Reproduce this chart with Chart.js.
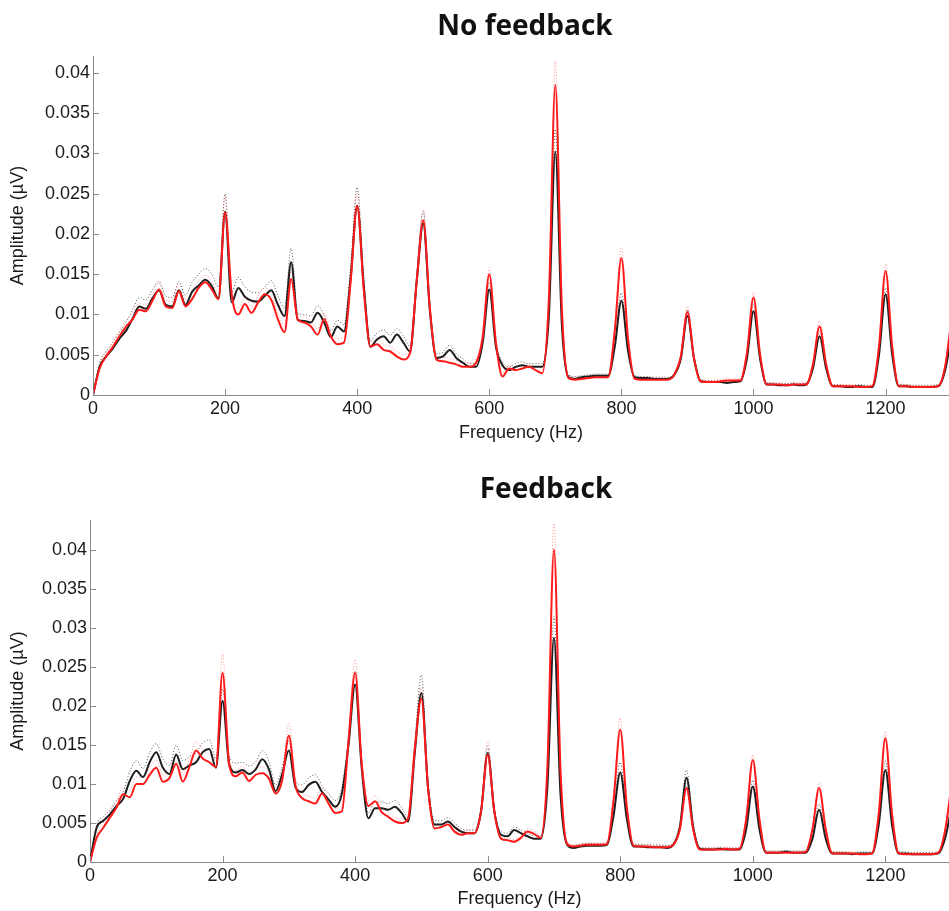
<!DOCTYPE html>
<html>
<head>
<meta charset="utf-8">
<script src="https://cdn.jsdelivr.net/npm/chart.js@4.4.0/dist/chart.umd.min.js"></script>
<style>
  body { margin: 0; background: #fff; }
  #page { position: relative; width: 949px; height: 911px; overflow: hidden; }
  canvas { position: absolute; left: 0; }
  .panel-title {
    position: absolute; font-family: "Open Sans", sans-serif; font-weight: 700;
    font-size: 28px; line-height: 32px; color: #111; transform: translateX(-50%); white-space: nowrap;
  }
</style>
</head>
<body>
<div id="page">
  <canvas id="noFb" width="949" height="455" style="top:0"></canvas>
  <canvas id="fb" width="949" height="456" style="top:455px"></canvas>
  <div class="panel-title" style="left:525px;top:8px">No feedback</div>
  <div class="panel-title" style="left:546px;top:471px">Feedback</div>
</div>
<script>
// spectra sampled every 10 Hz, 0..1300 Hz (one row = 100 Hz)
const freqStep = 10;
const xTicks = [0, 200, 400, 600, 800, 1000, 1200];
const yTicks = [0, 0.005, 0.01, 0.015, 0.02, 0.025, 0.03, 0.035, 0.04];
const yTickLabels = ['0', '0.005', '0.01', '0.015', '0.02', '0.025', '0.03', '0.035', '0.04'];

// --- No feedback ---
const noFbBlack = [
  0, 0.0035, 0.0048, 0.0058, 0.0070, 0.0080, 0.0095, 0.0110, 0.0107, 0.0120,
  0.0130, 0.0112, 0.0110, 0.0130, 0.0112, 0.0128, 0.0136, 0.0143, 0.0135, 0.0120,
  0.0228, 0.0115, 0.0133, 0.0122, 0.0117, 0.0116, 0.0123, 0.0130, 0.0112, 0.0098,
  0.0165, 0.0093, 0.0092, 0.0090, 0.0102, 0.0090, 0.0072, 0.0085, 0.0079, 0.0145,
  0.0235, 0.0135, 0.0060, 0.0069, 0.0073, 0.0065, 0.0075, 0.0065, 0.0054, 0.0140,
  0.0213, 0.0105, 0.0046, 0.0048, 0.0056, 0.0046, 0.0040, 0.0035, 0.0035, 0.0065,
  0.0131, 0.0060, 0.0037, 0.0031, 0.0035, 0.0037, 0.0035, 0.0035, 0.0035, 0.0095,
  0.0302, 0.0085, 0.0022, 0.0020, 0.0022, 0.0023, 0.0024, 0.0024, 0.0024, 0.0060,
  0.0117, 0.0055, 0.0022, 0.0021, 0.0021, 0.0020, 0.0020, 0.0020, 0.0025, 0.0045,
  0.0098, 0.0045, 0.0017, 0.0016, 0.0016, 0.0016, 0.0015, 0.0016, 0.0017, 0.0045,
  0.0104, 0.0045, 0.0013, 0.0013, 0.0012, 0.0012, 0.0013, 0.0012, 0.0013, 0.0033,
  0.0073, 0.0033, 0.0011, 0.0011, 0.0010, 0.0010, 0.0011, 0.0010, 0.0010, 0.0050,
  0.0125, 0.0050, 0.0011, 0.0011, 0.0010, 0.0010, 0.0010, 0.0010, 0.0011, 0.0030,
  0.0075
];
const noFbRed = [
  0, 0.0033, 0.0048, 0.0060, 0.0073, 0.0085, 0.0094, 0.0106, 0.0104, 0.0117,
  0.0131, 0.0110, 0.0108, 0.0129, 0.0110, 0.0119, 0.0133, 0.0140, 0.0131, 0.0119,
  0.0227, 0.0125, 0.0100, 0.0113, 0.0102, 0.0115, 0.0125, 0.0118, 0.0094, 0.0078,
  0.0144, 0.0094, 0.0090, 0.0085, 0.0075, 0.0094, 0.0073, 0.0063, 0.0065, 0.0140,
  0.0235, 0.0130, 0.0060, 0.0063, 0.0056, 0.0054, 0.0048, 0.0044, 0.0052, 0.0140,
  0.0217, 0.0108, 0.0044, 0.0042, 0.0040, 0.0038, 0.0035, 0.0035, 0.0040, 0.0072,
  0.0150, 0.0065, 0.0023, 0.0033, 0.0031, 0.0033, 0.0035, 0.0031, 0.0027, 0.0115,
  0.0385, 0.0105, 0.0021, 0.0019, 0.0020, 0.0021, 0.0022, 0.0022, 0.0022, 0.0080,
  0.0170, 0.0070, 0.0020, 0.0019, 0.0019, 0.0019, 0.0019, 0.0019, 0.0025, 0.0048,
  0.0103, 0.0045, 0.0017, 0.0016, 0.0016, 0.0017, 0.0018, 0.0018, 0.0018, 0.0052,
  0.0121, 0.0050, 0.0013, 0.0013, 0.0013, 0.0012, 0.0013, 0.0013, 0.0013, 0.0038,
  0.0085, 0.0038, 0.0011, 0.0011, 0.0011, 0.0011, 0.0010, 0.0010, 0.0011, 0.0060,
  0.0154, 0.0060, 0.0011, 0.0011, 0.0010, 0.0010, 0.0010, 0.0010, 0.0011, 0.0035,
  0.0095
];
const noFbBlackUpper = [
  0, 0.0040, 0.0054, 0.0065, 0.0078, 0.0090, 0.0106, 0.0121, 0.0118, 0.0131,
  0.0141, 0.0123, 0.0121, 0.0141, 0.0124, 0.0140, 0.0150, 0.0157, 0.0150, 0.0134,
  0.0250, 0.0128, 0.0146, 0.0134, 0.0128, 0.0127, 0.0134, 0.0142, 0.0123, 0.0108,
  0.0182, 0.0102, 0.0100, 0.0098, 0.0111, 0.0099, 0.0080, 0.0093, 0.0087, 0.0160,
  0.0258, 0.0148, 0.0068, 0.0077, 0.0081, 0.0074, 0.0083, 0.0073, 0.0060, 0.0150,
  0.0228, 0.0112, 0.0051, 0.0053, 0.0062, 0.0051, 0.0045, 0.0039, 0.0039, 0.0070,
  0.0140, 0.0066, 0.0041, 0.0035, 0.0039, 0.0041, 0.0039, 0.0039, 0.0039, 0.0103,
  0.0330, 0.0093, 0.0025, 0.0023, 0.0024, 0.0025, 0.0026, 0.0026, 0.0026, 0.0066,
  0.0127, 0.0060, 0.0024, 0.0023, 0.0023, 0.0022, 0.0022, 0.0022, 0.0027, 0.0049,
  0.0106, 0.0049, 0.0019, 0.0018, 0.0018, 0.0018, 0.0017, 0.0018, 0.0019, 0.0049,
  0.0112, 0.0049, 0.0015, 0.0015, 0.0014, 0.0014, 0.0015, 0.0014, 0.0015, 0.0036,
  0.0079, 0.0036, 0.0013, 0.0013, 0.0012, 0.0012, 0.0013, 0.0012, 0.0012, 0.0054,
  0.0133, 0.0054, 0.0013, 0.0013, 0.0012, 0.0012, 0.0012, 0.0012, 0.0013, 0.0033,
  0.0080
];
const noFbRedUpper = [
  0, 0.0038, 0.0053, 0.0066, 0.0080, 0.0093, 0.0102, 0.0114, 0.0112, 0.0125,
  0.0139, 0.0118, 0.0116, 0.0137, 0.0118, 0.0128, 0.0142, 0.0149, 0.0140, 0.0128,
  0.0248, 0.0133, 0.0108, 0.0121, 0.0110, 0.0123, 0.0133, 0.0126, 0.0102, 0.0086,
  0.0155, 0.0101, 0.0097, 0.0092, 0.0082, 0.0101, 0.0080, 0.0070, 0.0072, 0.0150,
  0.0250, 0.0140, 0.0066, 0.0069, 0.0062, 0.0060, 0.0054, 0.0050, 0.0058, 0.0150,
  0.0230, 0.0115, 0.0049, 0.0047, 0.0045, 0.0043, 0.0040, 0.0040, 0.0045, 0.0078,
  0.0158, 0.0071, 0.0027, 0.0037, 0.0035, 0.0037, 0.0039, 0.0035, 0.0031, 0.0125,
  0.0415, 0.0115, 0.0024, 0.0022, 0.0023, 0.0024, 0.0025, 0.0025, 0.0025, 0.0087,
  0.0183, 0.0076, 0.0023, 0.0021, 0.0021, 0.0021, 0.0021, 0.0021, 0.0028, 0.0052,
  0.0110, 0.0049, 0.0019, 0.0018, 0.0018, 0.0019, 0.0020, 0.0020, 0.0020, 0.0056,
  0.0128, 0.0054, 0.0015, 0.0015, 0.0015, 0.0014, 0.0015, 0.0015, 0.0015, 0.0041,
  0.0092, 0.0041, 0.0013, 0.0013, 0.0013, 0.0013, 0.0012, 0.0012, 0.0013, 0.0064,
  0.0163, 0.0064, 0.0013, 0.0013, 0.0012, 0.0012, 0.0012, 0.0012, 0.0013, 0.0038,
  0.0100
];

// --- Feedback ---
const fbBlack = [
  0, 0.0044, 0.0053, 0.0061, 0.0072, 0.0081, 0.0104, 0.0117, 0.0109, 0.0128,
  0.0141, 0.0121, 0.0113, 0.0138, 0.0119, 0.0124, 0.0128, 0.0141, 0.0145, 0.0121,
  0.0207, 0.0125, 0.0115, 0.0118, 0.0113, 0.0119, 0.0132, 0.0119, 0.0091, 0.0113,
  0.0143, 0.0096, 0.0090, 0.0099, 0.0103, 0.0090, 0.0080, 0.0071, 0.0088, 0.0150,
  0.0228, 0.0120, 0.0056, 0.0069, 0.0069, 0.0067, 0.0071, 0.0063, 0.0052, 0.0140,
  0.0217, 0.0095, 0.0048, 0.0048, 0.0052, 0.0045, 0.0039, 0.0037, 0.0037, 0.0065,
  0.0140, 0.0065, 0.0035, 0.0033, 0.0041, 0.0037, 0.0033, 0.0030, 0.0030, 0.0095,
  0.0288, 0.0085, 0.0022, 0.0018, 0.0020, 0.0021, 0.0021, 0.0021, 0.0022, 0.0060,
  0.0115, 0.0055, 0.0020, 0.0020, 0.0019, 0.0019, 0.0019, 0.0018, 0.0022, 0.0045,
  0.0108, 0.0045, 0.0017, 0.0016, 0.0016, 0.0017, 0.0016, 0.0016, 0.0016, 0.0042,
  0.0097, 0.0042, 0.0012, 0.0012, 0.0012, 0.0013, 0.0012, 0.0012, 0.0012, 0.0030,
  0.0067, 0.0030, 0.0011, 0.0011, 0.0011, 0.0010, 0.0011, 0.0011, 0.0011, 0.0048,
  0.0118, 0.0048, 0.0011, 0.0011, 0.0010, 0.0010, 0.0010, 0.0010, 0.0011, 0.0030,
  0.0070
];
const fbRed = [
  0, 0.0031, 0.0044, 0.0057, 0.0070, 0.0087, 0.0083, 0.0100, 0.0100, 0.0112,
  0.0121, 0.0103, 0.0108, 0.0126, 0.0103, 0.0122, 0.0143, 0.0133, 0.0128, 0.0122,
  0.0243, 0.0125, 0.0110, 0.0115, 0.0104, 0.0112, 0.0114, 0.0107, 0.0088, 0.0105,
  0.0162, 0.0098, 0.0082, 0.0078, 0.0075, 0.0088, 0.0075, 0.0063, 0.0065, 0.0155,
  0.0243, 0.0125, 0.0072, 0.0078, 0.0064, 0.0058, 0.0052, 0.0050, 0.0056, 0.0145,
  0.0210, 0.0095, 0.0043, 0.0045, 0.0048, 0.0039, 0.0035, 0.0037, 0.0037, 0.0065,
  0.0138, 0.0065, 0.0030, 0.0028, 0.0026, 0.0031, 0.0039, 0.0036, 0.0031, 0.0120,
  0.0401, 0.0115, 0.0023, 0.0020, 0.0021, 0.0022, 0.0022, 0.0022, 0.0023, 0.0080,
  0.0170, 0.0070, 0.0021, 0.0020, 0.0020, 0.0019, 0.0019, 0.0019, 0.0022, 0.0042,
  0.0095, 0.0042, 0.0016, 0.0016, 0.0016, 0.0016, 0.0017, 0.0016, 0.0017, 0.0055,
  0.0131, 0.0055, 0.0012, 0.0012, 0.0012, 0.0012, 0.0012, 0.0012, 0.0013, 0.0042,
  0.0095, 0.0042, 0.0011, 0.0011, 0.0011, 0.0011, 0.0010, 0.0010, 0.0011, 0.0062,
  0.0159, 0.0062, 0.0011, 0.0010, 0.0010, 0.0010, 0.0010, 0.0010, 0.0012, 0.0040,
  0.0100
];
const fbBlackUpper = [
  0, 0.0048, 0.0058, 0.0067, 0.0079, 0.0090, 0.0116, 0.0130, 0.0120, 0.0140,
  0.0152, 0.0132, 0.0124, 0.0150, 0.0130, 0.0135, 0.0140, 0.0153, 0.0157, 0.0132,
  0.0222, 0.0136, 0.0127, 0.0128, 0.0123, 0.0129, 0.0143, 0.0129, 0.0099, 0.0122,
  0.0155, 0.0105, 0.0099, 0.0108, 0.0112, 0.0098, 0.0088, 0.0079, 0.0096, 0.0160,
  0.0245, 0.0130, 0.0063, 0.0077, 0.0077, 0.0075, 0.0079, 0.0070, 0.0058, 0.0152,
  0.0240, 0.0105, 0.0053, 0.0053, 0.0057, 0.0050, 0.0043, 0.0041, 0.0041, 0.0070,
  0.0148, 0.0070, 0.0039, 0.0037, 0.0045, 0.0041, 0.0037, 0.0034, 0.0034, 0.0105,
  0.0315, 0.0093, 0.0025, 0.0021, 0.0023, 0.0024, 0.0024, 0.0024, 0.0025, 0.0066,
  0.0128, 0.0060, 0.0023, 0.0023, 0.0022, 0.0022, 0.0022, 0.0021, 0.0025, 0.0050,
  0.0118, 0.0050, 0.0019, 0.0018, 0.0018, 0.0019, 0.0018, 0.0018, 0.0018, 0.0046,
  0.0105, 0.0046, 0.0014, 0.0014, 0.0014, 0.0015, 0.0014, 0.0014, 0.0014, 0.0033,
  0.0075, 0.0033, 0.0013, 0.0013, 0.0013, 0.0012, 0.0013, 0.0013, 0.0013, 0.0053,
  0.0130, 0.0053, 0.0013, 0.0013, 0.0012, 0.0012, 0.0012, 0.0012, 0.0013, 0.0033,
  0.0077
];
const fbRedUpper = [
  0, 0.0036, 0.0050, 0.0064, 0.0078, 0.0096, 0.0092, 0.0109, 0.0109, 0.0121,
  0.0131, 0.0112, 0.0117, 0.0136, 0.0112, 0.0132, 0.0155, 0.0144, 0.0138, 0.0131,
  0.0268, 0.0135, 0.0118, 0.0123, 0.0112, 0.0120, 0.0122, 0.0115, 0.0095, 0.0112,
  0.0178, 0.0106, 0.0089, 0.0085, 0.0082, 0.0095, 0.0082, 0.0069, 0.0071, 0.0165,
  0.0260, 0.0135, 0.0079, 0.0085, 0.0070, 0.0064, 0.0057, 0.0055, 0.0061, 0.0155,
  0.0225, 0.0102, 0.0047, 0.0049, 0.0052, 0.0043, 0.0039, 0.0041, 0.0041, 0.0070,
  0.0155, 0.0071, 0.0033, 0.0031, 0.0029, 0.0034, 0.0043, 0.0040, 0.0034, 0.0130,
  0.0435, 0.0125, 0.0026, 0.0022, 0.0023, 0.0024, 0.0024, 0.0024, 0.0025, 0.0087,
  0.0185, 0.0076, 0.0023, 0.0022, 0.0022, 0.0021, 0.0021, 0.0021, 0.0024, 0.0046,
  0.0102, 0.0046, 0.0018, 0.0018, 0.0018, 0.0018, 0.0019, 0.0018, 0.0019, 0.0059,
  0.0138, 0.0059, 0.0014, 0.0014, 0.0014, 0.0014, 0.0014, 0.0014, 0.0015, 0.0045,
  0.0102, 0.0045, 0.0013, 0.0013, 0.0013, 0.0013, 0.0012, 0.0012, 0.0013, 0.0066,
  0.0168, 0.0066, 0.0013, 0.0012, 0.0012, 0.0012, 0.0012, 0.0012, 0.0014, 0.0043,
  0.0106
];

const freqs = noFbBlack.map((_, i) => i * freqStep);
const toPoints = arr => arr.map((v, i) => ({ x: freqs[i], y: v }));

const axisColor = '#8a8a8a';
const textColor = '#1a1a1a';
const tickFont = { family: '"Liberation Sans", Arial, sans-serif', size: 18 };

// MATLAB style ticks pointing into the plot
const inwardTicks = {
  id: 'inwardTicks',
  afterDatasetsDraw(chart) {
    const { ctx, chartArea, scales: { x, y } } = chart;
    ctx.save();
    ctx.strokeStyle = axisColor;
    ctx.lineWidth = 1;
    ctx.beginPath();
    xTicks.forEach(v => {
      const px = Math.round(x.getPixelForValue(v)) + 0.5;
      ctx.moveTo(px, chartArea.bottom);
      ctx.lineTo(px, chartArea.bottom - 6);
    });
    yTicks.forEach(v => {
      const py = Math.round(y.getPixelForValue(v)) + 0.5;
      ctx.moveTo(chartArea.left, py);
      ctx.lineTo(chartArea.left + 6, py);
    });
    ctx.stroke();
    ctx.restore();
  }
};

function makeChart(id, black, red, blackUp, redUp, o) {
  const line = (data, color, width, dash) => ({
    data: toPoints(data), borderColor: color, borderWidth: width, borderDash: dash,
    pointRadius: 0, fill: false, cubicInterpolationMode: 'monotone'
  });
  return new Chart(document.getElementById(id), {
    type: 'line',
    data: {
      datasets: [
        line(red, '#ff1a1a', 2, []),
        line(black, '#1e1e1e', 2, []),
        line(redUp, 'rgba(255,120,120,0.8)', 1, [1, 2]),
        line(blackUp, '#555', 1, [1, 2])
      ]
    },
    options: {
      responsive: false,
      animation: false,
      layout: { padding: { top: o.top, left: 0, right: 0, bottom: 0 } },
      plugins: { legend: { display: false }, tooltip: { enabled: false } },
      scales: {
        x: {
          type: 'linear', min: 0, max: 1296,
          afterFit: s => { s.height = o.xHeight; },
          afterBuildTicks: s => { s.ticks = xTicks.map(v => ({ value: v })); },
          grid: { drawOnChartArea: false, drawTicks: false },
          border: { color: axisColor },
          ticks: { font: tickFont, color: textColor, padding: 3, maxRotation: 0, callback: v => String(v) },
          title: { display: true, text: 'Frequency (Hz)', font: tickFont, color: textColor, padding: { bottom: o.xTitlePad } }
        },
        y: {
          min: 0, max: o.yMax,
          afterFit: s => { s.width = o.yWidth; },
          afterBuildTicks: s => { s.ticks = yTicks.map(v => ({ value: v })); },
          grid: { drawOnChartArea: false, drawTicks: false },
          border: { color: axisColor },
          ticks: { font: tickFont, color: textColor, padding: 3, callback: (v, i) => yTickLabels[i] },
          title: { display: true, text: 'Amplitude (\u00b5V)', font: tickFont, color: textColor, padding: { top: 7 } }
        }
      }
    },
    plugins: [inwardTicks]
  });
}

makeChart('noFb', noFbBlack, noFbRed, noFbBlackUpper, noFbRedUpper,
  { top: 56, xHeight: 60, yWidth: 93, yMax: 0.0421, xTitlePad: 11 });
makeChart('fb', fbBlack, fbRed, fbBlackUpper, fbRedUpper,
  { top: 65, xHeight: 49, yWidth: 90, yMax: 0.0439, xTitlePad: 1 });
</script>
</body>
</html>
